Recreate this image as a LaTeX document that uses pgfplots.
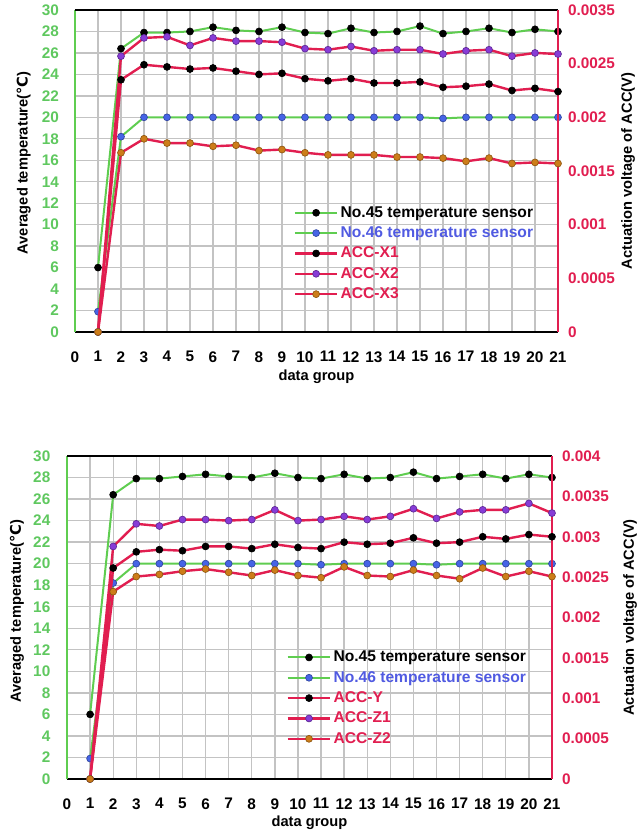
\documentclass[border=0pt]{standalone}
\usepackage{fontspec}
\setmainfont{Liberation Sans}
\newfontfamily\djv{DejaVu Sans}
\usepackage{pgfplots}
\pgfplotsset{compat=1.18}
\definecolor{cGreen}{RGB}{95,205,80}
\definecolor{cGreenT}{RGB}{95,200,95}
\definecolor{cRed}{RGB}{225,30,80}
\definecolor{cBlue}{RGB}{70,100,230}
\definecolor{cBlueT}{RGB}{80,90,225}
\definecolor{cPurple}{RGB}{135,60,215}
\definecolor{cOrange}{RGB}{205,125,25}
\definecolor{cGrid}{RGB}{195,195,195}

\pgfplotstableread{
x  t45   t46
1  6.0   1.9
2  26.4  18.2
3  27.9  20.0
4  27.9  20.0
5  28.0  20.0
6  28.4  20.0
7  28.1  20.0
8  28.0  20.0
9  28.4  20.0
10 27.9  20.0
11 27.8  20.0
12 28.3  20.0
13 27.9  20.0
14 28.0  20.0
15 28.5  20.0
16 27.8  19.9
17 28.0  20.0
18 28.3  20.0
19 27.9  20.0
20 28.2  20.0
21 28.0  20.0
}\tempA

\pgfplotstableread{
x  x1       x2       x3
1  0        0        0
2  0.00235  0.00257  0.00167
3  0.00249  0.00274  0.00180
4  0.00247  0.00275  0.00176
5  0.00245  0.00267  0.00176
6  0.00246  0.00274  0.00173
7  0.00243  0.00271  0.00174
8  0.00240  0.00271  0.00169
9  0.00241  0.00270  0.00170
10 0.00236  0.00264  0.00167
11 0.00234  0.00263  0.00165
12 0.00236  0.00266  0.00165
13 0.00232  0.00262  0.00165
14 0.00232  0.00263  0.00163
15 0.00233  0.00263  0.00163
16 0.00228  0.00259  0.00162
17 0.00229  0.00262  0.00159
18 0.00231  0.00263  0.00162
19 0.00225  0.00257  0.00157
20 0.00227  0.00260  0.00158
21 0.00224  0.00259  0.00157
}\accA

\pgfplotstableread{
x  t45   t46
1  6.0   1.9
2  26.4  18.2
3  27.9  20.0
4  27.9  20.0
5  28.1  20.0
6  28.3  20.0
7  28.1  20.0
8  28.0  20.0
9  28.4  20.0
10 28.0  20.0
11 27.9  19.9
12 28.3  20.0
13 27.9  20.0
14 28.0  20.0
15 28.5  20.0
16 27.9  19.9
17 28.1  20.0
18 28.3  20.0
19 27.9  20.0
20 28.3  20.0
21 28.0  20.0
}\tempB

\pgfplotstableread{
x  y        z1       z2
1  0        0        0
2  0.002613 0.00288  0.00232
3  0.002813 0.00316  0.002507
4  0.00284  0.003133 0.002533
5  0.002827 0.003213 0.002573
6  0.00288  0.003213 0.0026
7  0.00288  0.0032   0.00256
8  0.002853 0.003213 0.00252
9  0.002907 0.003333 0.002587
10 0.002867 0.0032   0.00252
11 0.002853 0.003213 0.002493
12 0.002933 0.003253 0.002627
13 0.002907 0.003213 0.00252
14 0.00292  0.003253 0.002507
15 0.002987 0.003347 0.002587
16 0.00292  0.003227 0.00252
17 0.002933 0.003307 0.00248
18 0.003    0.003333 0.002613
19 0.002973 0.003333 0.002507
20 0.003027 0.003413 0.002573
21 0.003    0.003293 0.002507
}\accB

\newcommand{\labfont}{\bfseries\fontsize{11}{13}\selectfont}
\pgfplotsset{
  common/.style={
    scale only axis, xmin=0, xmax=21, clip=false,
    major tick length=0pt,
    scaled y ticks=false, scaled x ticks=false,
    /pgf/number format/assume math mode=true,
    tick label style={font=\bfseries\fontsize{11.5}{13}\selectfont},
  },
  leftax/.style={
    common, ymin=0, ymax=30,
    xtick={0,...,21}, ytick={0,2,...,30},
    axis x line*=bottom, axis y line*=left,
    x axis line style={black, line width=1.5pt, -},
    y axis line style={cGreen, line width=1.5pt, -},
    grid=major, grid style={cGrid, line width=1pt},
    yticklabel style={text=cGreenT},
    xticklabel style={yshift=-11pt},
    xlabel={data group},
    ylabel={Averaged temperature({\djv\bfseries ℃})},
  },
  rightax/.style={
    common,
    axis x line*=top, axis y line*=right,
    xtick=\empty,
    x axis line style={black, line width=1.5pt, -},
    y axis line style={cRed, line width=1.5pt, -},
    yticklabel style={text=cRed, xshift=4pt},
    ylabel={Actuation voltage of ACC(V)},
    legend cell align=left,
    legend image code/.code={\draw[#1,mark repeat=2,mark phase=2] plot coordinates {(0pt,0pt) (16pt,0pt) (32pt,0pt)};},
    legend style={draw=none, fill=none, anchor=north west,
      font=\bfseries\fontsize{11.7}{12}\selectfont,
      row sep=2.6pt, inner sep=0pt, nodes={inner sep=1.5pt}},
  },
  gline/.style={cGreen, line width=1.5pt, mark=*, mark size=2.6pt, mark options={fill=#1, draw=#1!70!black, line width=0.5pt}},
  rline/.style={cRed, line width=1.8pt, mark=*, mark size=2.6pt, mark options={fill=#1, draw=#1!70!black, line width=0.5pt}},
}

\begin{document}
\begin{tikzpicture}
\useasboundingbox (0,0) rectangle (478.5pt,624.75pt);
% ---------------- top panel ----------------
\begin{axis}[leftax,
  at={(56.25pt,375.75pt)}, anchor=south west,
  width=362.25pt, height=241.5pt,
  yticklabel style={xshift=-8.5pt},
  every axis x label/.style={at={(axis description cs:0.5,-0.14)}, anchor=center, font=\labfont},
  every axis y label/.style={at={(axis description cs:-0.106,0.525)}, anchor=center, rotate=90, font=\labfont},
]
\addplot[gline=black] table[x=x, y=t45] {\tempA};
\addplot[gline=cBlue] table[x=x, y=t46] {\tempA};
\end{axis}
\begin{axis}[rightax,
  at={(56.25pt,375.75pt)}, anchor=south west,
  width=362.25pt, height=241.5pt,
  ymin=0, ymax=0.003,
  ytick={0,0.0005,0.001,0.0015,0.002,0.0025,0.003},
  yticklabels={0,0.0005,0.001,0.0015,0.002,0.0025,0.0035},
  every axis y label/.style={at={(axis description cs:1.145,0.5)}, anchor=center, rotate=90, font=\labfont},
  legend style={at={(axis description cs:0.452,0.397)}},
]
\addlegendimage{gline=black}
\addlegendentry{No.45 temperature sensor}
\addlegendimage{gline=cBlue}
\addlegendentry{\textcolor{cBlueT}{No.46 temperature sensor}}
\addplot[rline=black] table[x=x, y=x1] {\accA};
\addlegendentry{\textcolor{cRed}{ACC-X1}}
\addplot[rline=cPurple] table[x=x, y=x2] {\accA};
\addlegendentry{\textcolor{cRed}{ACC-X2}}
\addplot[rline=cOrange] table[x=x, y=x3] {\accA};
\addlegendentry{\textcolor{cRed}{ACC-X3}}
\end{axis}
% ---------------- bottom panel ----------------
\begin{axis}[leftax,
  at={(50.25pt,40.5pt)}, anchor=south west,
  width=363.75pt, height=242.25pt,
  yticklabel style={xshift=-9pt},
  every axis x label/.style={at={(axis description cs:0.5,-0.136)}, anchor=center, font=\labfont},
  every axis y label/.style={at={(axis description cs:-0.103,0.52)}, anchor=center, rotate=90, font=\labfont},
]
\addplot[gline=black] table[x=x, y=t45] {\tempB};
\addplot[gline=cBlue] table[x=x, y=t46] {\tempB};
\end{axis}
\begin{axis}[rightax,
  at={(50.25pt,40.5pt)}, anchor=south west,
  width=363.75pt, height=242.25pt,
  ymin=0, ymax=0.004,
  ytick={0,0.0005,0.001,0.0015,0.002,0.0025,0.003,0.0035,0.004},
  yticklabels={0,0.0005,0.001,0.0015,0.002,0.0025,0.003,0.0035,0.004},
  every axis y label/.style={at={(axis description cs:1.161,0.5)}, anchor=center, rotate=90, font=\labfont},
  legend style={at={(axis description cs:0.452,0.403)}},
]
\addlegendimage{gline=black}
\addlegendentry{No.45 temperature sensor}
\addlegendimage{gline=cBlue}
\addlegendentry{\textcolor{cBlueT}{No.46 temperature sensor}}
\addplot[rline=black] table[x=x, y=y] {\accB};
\addlegendentry{\textcolor{cRed}{ACC-Y}}
\addplot[rline=cPurple] table[x=x, y=z1] {\accB};
\addlegendentry{\textcolor{cRed}{ACC-Z1}}
\addplot[rline=cOrange] table[x=x, y=z2] {\accB};
\addlegendentry{\textcolor{cRed}{ACC-Z2}}
\end{axis}
\end{tikzpicture}
\end{document}
